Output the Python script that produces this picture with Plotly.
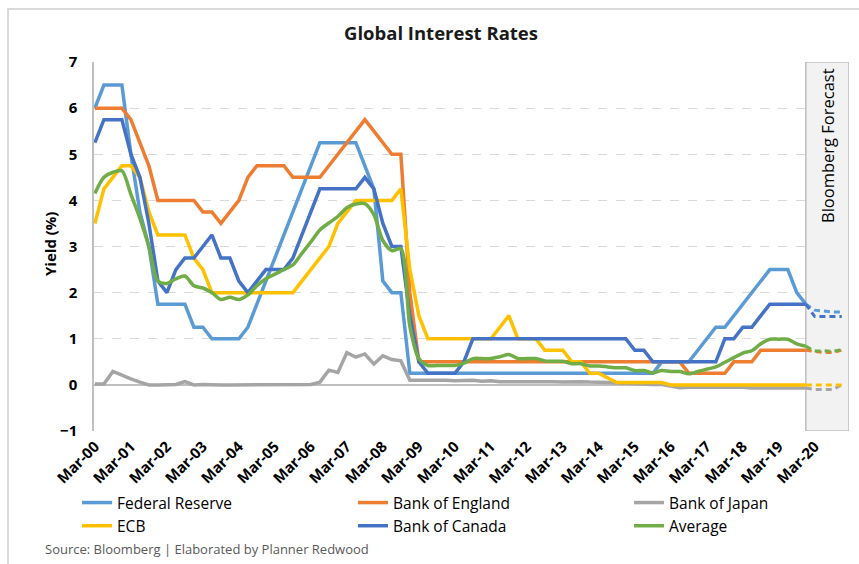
import plotly.graph_objects as go

# ---------------- data ----------------
months = ["Mar", "Jun", "Sep", "Dec"]
quarters = [f"{m}-{y:02d}" for y in range(0, 21) for m in months]  # Mar-00 .. Dec-20 (84)
tick_labels = quarters[0:81:4]  # Mar-00 .. Mar-20

hist_q = quarters[0:80]      # Mar-00 .. Dec-19
fcst_q = quarters[79:84]     # Dec-19 .. Dec-20

fed = [6.0, 6.5, 6.5, 6.5, 5.0, 3.75, 3.0, 1.75, 1.75, 1.75,
       1.75, 1.25, 1.25, 1.0, 1.0, 1.0, 1.0, 1.25, 1.75, 2.25,
       2.75, 3.25, 3.75, 4.25, 4.75, 5.25, 5.25, 5.25, 5.25, 5.25,
       4.75, 4.25, 2.25, 2.0, 2.0, 0.25, 0.25, 0.25, 0.25, 0.25,
       0.25, 0.25, 0.25, 0.25, 0.25, 0.25, 0.25, 0.25, 0.25, 0.25,
       0.25, 0.25, 0.25, 0.25, 0.25, 0.25, 0.25, 0.25, 0.25, 0.25,
       0.25, 0.25, 0.25, 0.5, 0.5, 0.5, 0.5, 0.75, 1.0, 1.25,
       1.25, 1.5, 1.75, 2.0, 2.25, 2.5, 2.5, 2.5, 2.0, 1.75]

boe = [6.0, 6.0, 6.0, 6.0, 5.75, 5.25, 4.75, 4.0, 4.0, 4.0,
       4.0, 4.0, 3.75, 3.75, 3.5, 3.75, 4.0, 4.5, 4.75, 4.75,
       4.75, 4.75, 4.5, 4.5, 4.5, 4.5, 4.75, 5.0, 5.25, 5.5,
       5.75, 5.5, 5.25, 5.0, 5.0, 2.0, 0.5, 0.5, 0.5, 0.5,
       0.5, 0.5, 0.5, 0.5, 0.5, 0.5, 0.5, 0.5, 0.5, 0.5,
       0.5, 0.5, 0.5, 0.5, 0.5, 0.5, 0.5, 0.5, 0.5, 0.5,
       0.5, 0.5, 0.5, 0.5, 0.5, 0.5, 0.25, 0.25, 0.25, 0.25,
       0.25, 0.5, 0.5, 0.5, 0.75, 0.75, 0.75, 0.75, 0.75, 0.75]

boj = [0.02, 0.02, 0.29, 0.2, 0.13, 0.06, 0.0, 0.0, 0.0, 0.01,
       0.07, 0.0, 0.01, 0.0, 0.0, 0.0, 0.0, 0.0, 0.0, 0.0,
       0.0, 0.01, 0.0, 0.0, 0.01, 0.06, 0.32, 0.27, 0.7, 0.6,
       0.67, 0.45, 0.63, 0.55, 0.52, 0.1, 0.1, 0.11, 0.1, 0.1,
       0.09, 0.09, 0.1, 0.08, 0.09, 0.07, 0.07, 0.08, 0.08, 0.08,
       0.08, 0.07, 0.06, 0.07, 0.07, 0.06, 0.06, 0.05, 0.04, 0.03,
       0.02, 0.01, 0.01, 0.01, -0.03, -0.06, -0.05, -0.05, -0.05, -0.05,
       -0.05, -0.05, -0.05, -0.07, -0.07, -0.07, -0.07, -0.07, -0.07, -0.07]

ecb = [3.5, 4.25, 4.5, 4.75, 4.75, 4.5, 3.75, 3.25, 3.25, 3.25,
       3.25, 2.75, 2.5, 2.0, 2.0, 2.0, 2.0, 2.0, 2.0, 2.0,
       2.0, 2.0, 2.0, 2.25, 2.5, 2.75, 3.0, 3.5, 3.75, 4.0,
       4.0, 4.0, 4.0, 4.0, 4.25, 2.5, 1.5, 1.0, 1.0, 1.0,
       1.0, 1.0, 1.0, 1.0, 1.0, 1.25, 1.5, 1.0, 1.0, 1.0,
       0.75, 0.75, 0.75, 0.5, 0.5, 0.25, 0.25, 0.15, 0.05, 0.05,
       0.05, 0.05, 0.05, 0.05, 0.0, 0.0, 0.0, 0.0, 0.0, 0.0,
       0.0, 0.0, 0.0, 0.0, 0.0, 0.0, 0.0, 0.0, 0.0, 0.0]

boc = [5.25, 5.75, 5.75, 5.75, 5.0, 4.5, 3.5, 2.25, 2.0, 2.5,
       2.75, 2.75, 3.0, 3.25, 2.75, 2.75, 2.25, 2.0, 2.25, 2.5,
       2.5, 2.5, 2.75, 3.25, 3.75, 4.25, 4.25, 4.25, 4.25, 4.25,
       4.5, 4.25, 3.5, 3.0, 3.0, 1.5, 0.5, 0.25, 0.25, 0.25,
       0.25, 0.5, 1.0, 1.0, 1.0, 1.0, 1.0, 1.0, 1.0, 1.0,
       1.0, 1.0, 1.0, 1.0, 1.0, 1.0, 1.0, 1.0, 1.0, 1.0,
       0.75, 0.75, 0.5, 0.5, 0.5, 0.5, 0.5, 0.5, 0.5, 0.5,
       1.0, 1.0, 1.25, 1.25, 1.5, 1.75, 1.75, 1.75, 1.75, 1.75]

avg = [4.15, 4.50, 4.61, 4.64, 4.13, 3.61, 3.00, 2.25, 2.20, 2.30,
       2.36, 2.15, 2.10, 2.00, 1.85, 1.90, 1.85, 1.95, 2.15, 2.30,
       2.40, 2.50, 2.60, 2.85, 3.10, 3.36, 3.51, 3.65, 3.84, 3.92,
       3.93, 3.69, 3.13, 2.91, 2.95, 1.27, 0.57, 0.42, 0.42, 0.42,
       0.42, 0.47, 0.57, 0.57, 0.57, 0.61, 0.66, 0.57, 0.57, 0.57,
       0.52, 0.51, 0.51, 0.46, 0.46, 0.41, 0.41, 0.39, 0.37, 0.37,
       0.31, 0.31, 0.26, 0.31, 0.29, 0.29, 0.24, 0.29, 0.34, 0.39,
       0.49, 0.59, 0.69, 0.74, 0.89, 0.99, 0.99, 0.99, 0.89, 0.84]

fed_f = [1.75, 1.62, 1.60, 1.58, 1.58]
boe_f = [0.75, 0.72, 0.70, 0.70, 0.75]
boj_f = [-0.07, -0.10, -0.10, -0.10, 0.0]
ecb_f = [0.0, 0.0, 0.0, 0.0, 0.0]
boc_f = [1.75, 1.48, 1.48, 1.48, 1.48]
avg_f = [0.84, 0.74, 0.74, 0.73, 0.76]

# name, history, forecast, colour, smoothed, legend column
series = [
    ("Federal Reserve", fed, fed_f, "#5B9BD5", False, "legend"),
    ("Bank of England", boe, boe_f, "#ED7D31", False, "legend2"),
    ("Bank of Japan", boj, boj_f, "#A5A5A5", False, "legend3"),
    ("ECB", ecb, ecb_f, "#FFC000", False, "legend"),
    ("Bank of Canada", boc, boc_f, "#4472C4", False, "legend2"),
    ("Average", avg, avg_f, "#70AD47", True, "legend3"),
]

FONT = "Open Sans"

fig = go.Figure()
for name, hist, fc, color, smooth, leg in series:
    fig.add_trace(go.Scatter(
        x=hist_q, y=hist, mode="lines", name=name, legend=leg,
        line=dict(color=color, width=3.5,
                  shape="spline" if smooth else "linear",
                  smoothing=0.8 if smooth else None),
        hoverinfo="skip"))
for name, hist, fc, color, smooth, leg in series:
    fig.add_trace(go.Scatter(
        x=fcst_q, y=fc, mode="lines", name=name + " forecast", showlegend=False,
        line=dict(color=color, width=3, dash="6px,4px",
                  shape="spline" if smooth else "linear"),
        hoverinfo="skip"))

W, H = 859, 564
L, R, T, B = 94, 10, 62, 133
pw, ph = W - L - R, H - T - B

def px_x(p):
    return (p - L) / pw

def px_y(p):
    return (H - B - p) / ph

shapes = [
    # outer chart border
    dict(type="rect", xref="paper", yref="paper",
         x0=px_x(8), x1=px_x(880), y0=px_y(590), y1=px_y(9),
         line=dict(color="#D9D9D9", width=2), fillcolor="rgba(0,0,0,0)", layer="below"),
    # forecast box
    dict(type="rect", xref="x", yref="y", x0=79, x1=83.8, y0=-1, y1=7,
         fillcolor="#F2F2F2", line=dict(color="#BFBFBF", width=1.5), layer="between"),
]

def legend_at(px_left):
    return dict(orientation="v", x=px_x(px_left), xanchor="left", y=px_y(486), yanchor="top",
                itemwidth=30, font=dict(size=15.5, family=FONT, color="#000"),
                bgcolor="rgba(0,0,0,0)", tracegroupgap=0)

fig.update_layout(
    width=W, height=H,
    margin=dict(l=L, r=R, t=T, b=B),
    paper_bgcolor="white", plot_bgcolor="white",
    font=dict(family=FONT, color="#000000"),
    showlegend=True,
    title=dict(text="<b>Global Interest Rates</b>", xref="container", yref="container",
               x=441 / W, y=1 - 34 / H, xanchor="center", yanchor="middle",
               font=dict(size=18.5, color="#1a1a1a", family=FONT)),
    xaxis=dict(type="category", categoryorder="array", categoryarray=quarters,
               range=[-0.1, 83.8], tickmode="array", tickvals=tick_labels, ticktext=tick_labels,
               tickangle=-45, showgrid=False, zeroline=False, showline=False, ticks="",
               ticklabelstandoff=3,
               tickfont=dict(size=15, family=FONT, weight="bold", color="#000")),
    yaxis=dict(range=[-1, 7], dtick=1, tick0=0, showgrid=True, gridcolor="#D9D9D9",
               griddash="dash", gridwidth=1, zeroline=True, zerolinecolor="#BFBFBF",
               zerolinewidth=1.5, showline=True, linecolor="#BFBFBF", linewidth=1.5,
               ticks="", ticklabelstandoff=12,
               tickfont=dict(size=15, family=FONT, weight="bold", color="#000")),
    legend=legend_at(77),
    legend2=legend_at(353),
    legend3=legend_at(629),
    shapes=shapes,
    annotations=[
        dict(text="<b>Yield (%)</b>", xref="paper", yref="paper",
             x=px_x(50), y=px_y(244), textangle=-90, showarrow=False,
             xanchor="center", yanchor="middle",
             font=dict(size=15, family=FONT, color="#000")),
        dict(text="Bloomberg Forecast", xref="paper", yref="paper",
             x=px_x(827), y=px_y(146), textangle=-90, showarrow=False,
             xanchor="center", yanchor="middle",
             font=dict(size=16.5, family=FONT, color="#000")),
        dict(text="Source: Bloomberg | Elaborated by Planner Redwood", xref="paper", yref="paper",
             x=px_x(43), y=px_y(549), xanchor="left", yanchor="middle", showarrow=False,
             font=dict(size=13, family=FONT, color="#595959")),
    ],
)

fig.write_html("out.html")
